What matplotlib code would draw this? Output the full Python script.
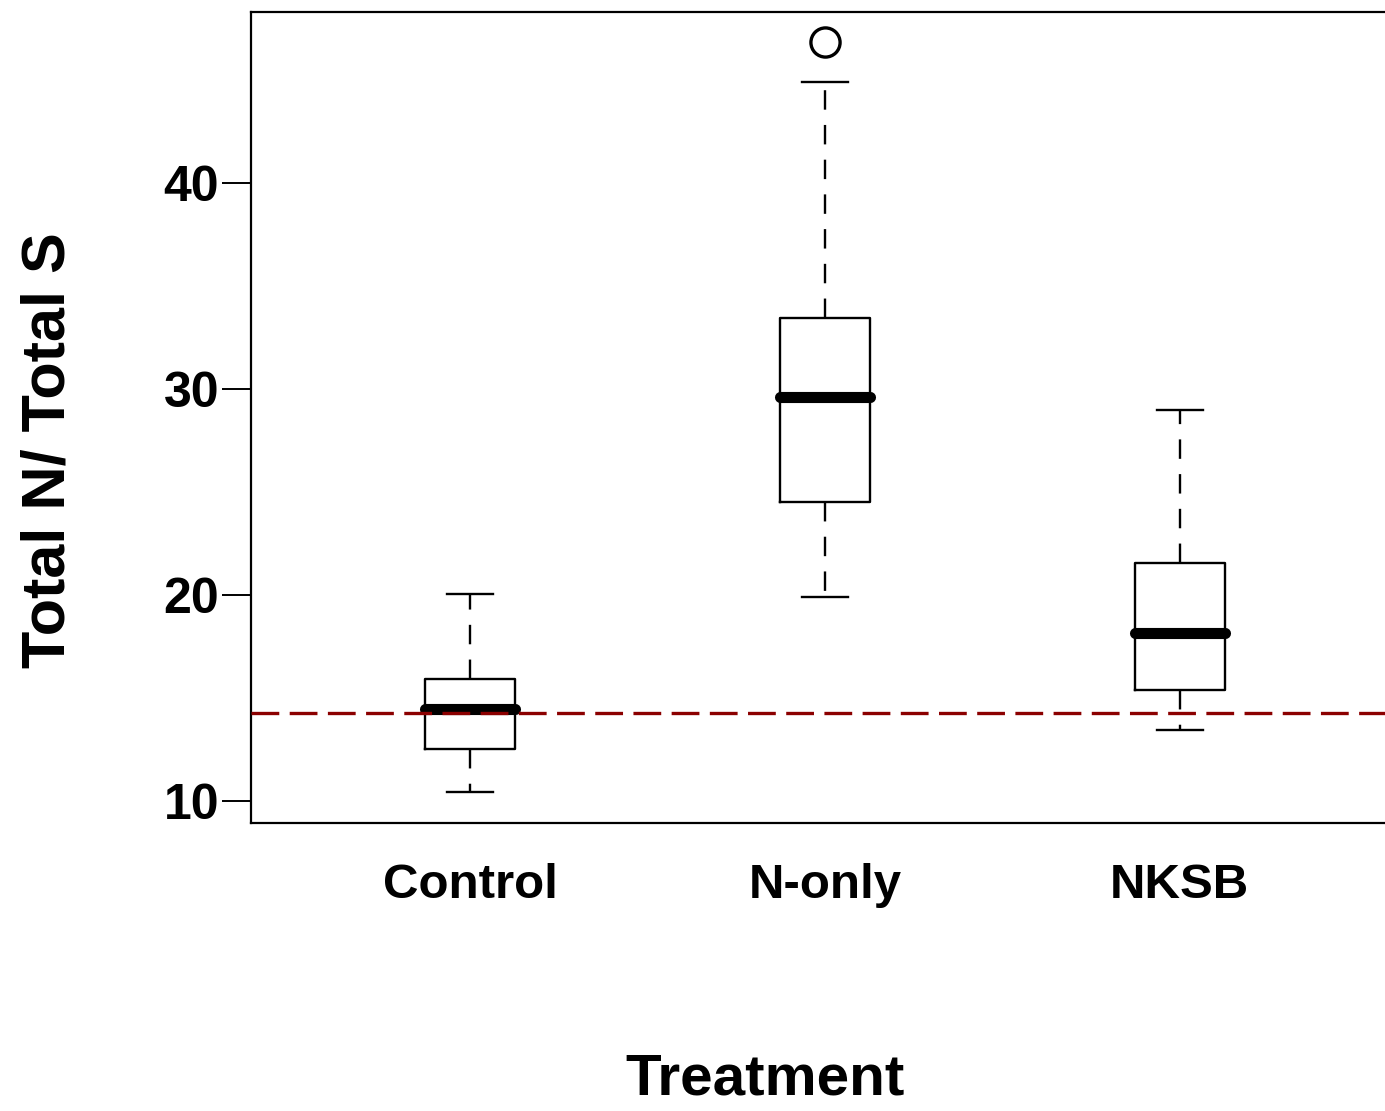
import matplotlib
matplotlib.use("Agg")
import matplotlib.pyplot as plt

plt.rcParams["font.family"] = ["Liberation Sans", "DejaVu Sans"]
plt.rcParams["font.weight"] = "bold"
plt.rcParams["lines.scale_dashes"] = False

treatments = ["Control", "N-only", "NKSB"]
whisker_low = [10.44, 19.9, 13.45]
quartile_1 = [12.52, 24.5, 15.39]
medians = [14.47, 29.61, 18.16]
quartile_3 = [15.92, 33.45, 21.55]
whisker_high = [20.05, 44.9, 28.98]
outliers = [[], [46.85], []]
reference_ratio = 14.29

stats = [
    dict(label=t, whislo=lo, q1=q1, med=med, q3=q3, whishi=hi, fliers=fl)
    for t, lo, q1, med, q3, hi, fl in zip(
        treatments, whisker_low, quartile_1, medians, quartile_3, whisker_high, outliers
    )
]

fig = plt.figure(figsize=(13.85, 11.11), dpi=100)
ax = fig.add_axes([0.1812, 0.2592, 0.829, 0.730])

ax.bxp(
    stats,
    positions=[1, 2, 3],
    widths=0.254,
    capwidths=0.13,
    boxprops=dict(color="black", linewidth=1.7),
    whiskerprops=dict(color="black", linewidth=1.7, linestyle=(0, (14, 11))),
    capprops=dict(color="black", linewidth=1.7),
    medianprops=dict(color="black", linewidth=8, solid_capstyle="round"),
    flierprops=dict(marker="o", markersize=21, markerfacecolor="none",
                    markeredgecolor="black", markeredgewidth=2.4),
)

ax.axhline(reference_ratio, color="#8b0000", linewidth=2.4,
           linestyle=(0, (20, 7.5)), zorder=3)

ax.set_xlim(0.382, 3.618)
ax.set_ylim(8.93, 48.3)
ax.set_yticks([10, 20, 30, 40])
ax.tick_params(axis="y", length=21, width=1.4, pad=2, labelsize=36)
ax.tick_params(axis="x", length=0, pad=29, labelsize=35.5)

for side in ["left", "bottom", "top", "right"]:
    ax.spines[side].set_linewidth(1.6)

ax.set_xlabel("Treatment", fontsize=42, fontweight="bold")
ax.set_ylabel("Total N/ Total S", fontsize=44, fontweight="bold")
ax.yaxis.set_label_coords(-0.151, 0.46)
ax.xaxis.set_label_coords(0.448, -0.283)

fig.savefig("out.png", dpi=100)
